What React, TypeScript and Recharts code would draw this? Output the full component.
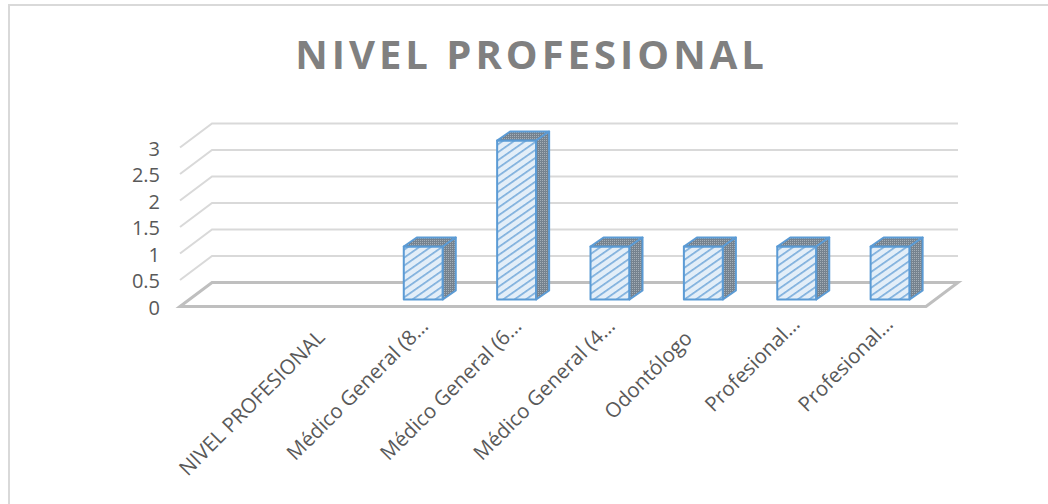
import React from 'react';
import { BarChart, Bar, XAxis, YAxis, CartesianGrid } from 'recharts';

const categories = [
  'NIVEL PROFESIONAL',
  'Médico General (8…',
  'Médico General (6…',
  'Médico General (4…',
  'Odontólogo',
  'Profesional…',
  'Profesional…',
];
const values = [0, 1, 3, 1, 1, 1, 1];
const yTicks = [0, 0.5, 1, 1.5, 2, 2.5, 3];

const data = categories.map((name, i) => ({ key: `${name}-${i}`, name, value: values[i] }));

const FONT = '"Open Sans", sans-serif';
const BLUE = '#5b9bd5';
// pseudo 3D offsets
const WALL_DX = 32;
const WALL_DY = 24;
const BAR_DX = 13;
const BAR_DY = 9;
const BAR_LIFT = 7;
// the rotated labels do not all end at the same spot under their category
const LABEL_NUDGE = [[0, -2], [10, -13], [10, -13], [10, -13], [-6, -1], [8, -15], [8, -15]];

// y=0 is drawn thicker and closes the floor
const Grid3d = (props: any) => {
  const { x1, x2, y1 } = props;
  const right = x2 - WALL_DX;
  const isFloor = y1 > 300;
  if (isFloor) {
    return (
      <path
        d={`M${x1} ${y1}L${x1 + WALL_DX} ${y1 - WALL_DY}H${x2}L${right} ${y1}Z`}
        fill="none"
        stroke="#bfbfbf"
        strokeWidth={3}
      />
    );
  }
  return (
    <path
      d={`M${x1} ${y1}L${x1 + WALL_DX} ${y1 - WALL_DY}H${x2}`}
      fill="none"
      stroke="#d9d9d9"
      strokeWidth={2}
    />
  );
};

const Box = (props: any) => {
  const { x, y, width, height } = props;
  if (!height) return null;
  const top = y - BAR_LIFT;
  const bottom = top + height;
  const right = x + width;
  return (
    <g stroke={BLUE} strokeWidth={2} strokeLinejoin="round">
      <rect x={x} y={top} width={width} height={height} fill="url(#frontHatch)" />
      <path d={`M${x} ${top}L${x + BAR_DX} ${top - BAR_DY}H${right + BAR_DX}L${right} ${top}Z`} fill="url(#darkDots)" />
      <path d={`M${right} ${top}L${right + BAR_DX} ${top - BAR_DY}V${bottom - BAR_DY}L${right} ${bottom}Z`} fill="url(#darkDots)" />
    </g>
  );
};

// rotated label, its end sits just under the floor of its category
const XTick = (props: any) => {
  const { x, y, index } = props;
  const [nx, ny] = LABEL_NUDGE[index];
  const tx = x - 4 + nx;
  const ty = y + 12 + ny;
  return (
    <text
      x={tx}
      y={ty}
      transform={`rotate(-45 ${tx} ${ty})`}
      textAnchor="end"
      fontFamily={FONT}
      fontSize={20.5}
      fill="#595959"
    >
      {categories[index]}
    </text>
  );
};

const App = () => {
  return (
    <div style={{ position: 'absolute', left: 0, top: 0, width: 1048, height: 504, background: '#fff' }}>
      <div
        style={{
          position: 'absolute',
          left: 8,
          top: 4,
          width: 1040,
          height: 498,
          borderLeft: '2px solid #d9d9d9',
          borderTop: '2px solid #d9d9d9',
          borderBottom: '2px solid #d9d9d9',
        }}
      />
      <BarChart
        width={1048}
        height={504}
        data={data}
        barSize={39}
        margin={{ top: 147.5, right: 90, left: 8, bottom: 7.5 }}
        style={{ position: 'absolute', left: 0, top: 0 }}
      >
        <defs>
          <pattern id="frontHatch" width="6.5" height="6.5" patternUnits="userSpaceOnUse" patternTransform="rotate(-35)">
            <rect width="6.5" height="6.5" fill="#e3eef8" />
            <rect width="6.5" height="1.7" fill="#7fb0dd" />
          </pattern>
          <pattern id="darkDots" width="2" height="2" patternUnits="userSpaceOnUse">
            <rect width="2" height="2" fill="#75828e" />
            <rect width="1" height="1" fill="#a4aeb7" />
          </pattern>
        </defs>
        <text
          x={531.5}
          y={69}
          textAnchor="middle"
          fontFamily={FONT}
          fontWeight={700}
          fontSize={40}
          letterSpacing={4}
          fill="#808080"
        >
          NIVEL PROFESIONAL
        </text>
        <CartesianGrid vertical={false} horizontal={(p: any) => <Grid3d key={p.key ?? p.index} {...p} />} />
        <XAxis
          dataKey="key"
          interval={0}
          axisLine={false}
          tickLine={false}
          tickMargin={16}
          padding={{ left: 103.4, right: 21 }}
          tick={<XTick />}
          height={190}
        />
        <YAxis
          domain={[0, 3]}
          ticks={yTicks}
          interval={0}
          tickFormatter={(v: number) => String(v)}
          axisLine={false}
          tickLine={false}
          width={172}
          tickMargin={14}
          tick={{ fontFamily: FONT, fontSize: 20, fill: '#595959', dy: 1 }}
        />
        <Bar dataKey="value" shape={<Box />} isAnimationActive={false} />
      </BarChart>
    </div>
  );
};

export default App;
